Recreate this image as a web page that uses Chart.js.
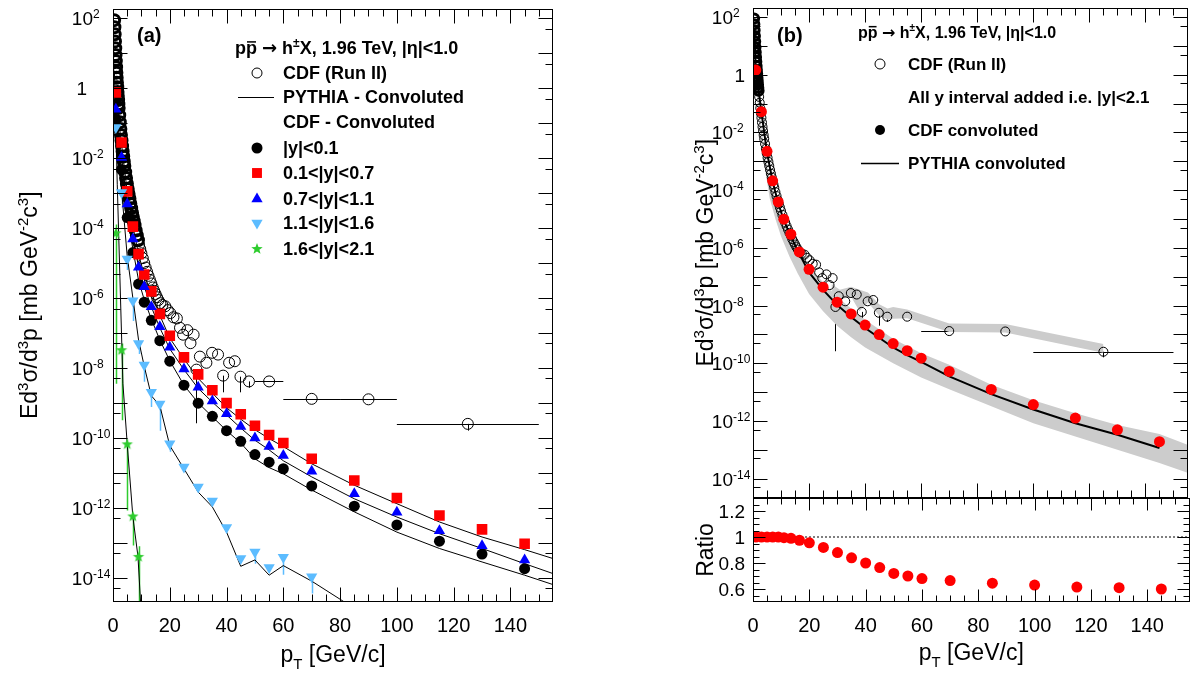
<!DOCTYPE html>
<html>
<head>
<meta charset="utf-8">
<script src="https://cdn.jsdelivr.net/npm/chart.js@4.4.1/dist/chart.umd.min.js"></script>
<style>
  html, body { margin: 0; padding: 0; background: #fff; }
  #wrap { position: relative; width: 1195px; height: 681px; overflow: hidden; }
  canvas { position: absolute; top: 0; }
</style>
</head>
<body>
<div id="wrap">
  <canvas id="cA" width="600" height="681" style="left:0"></canvas>
  <canvas id="cB" width="595" height="681" style="left:600px"></canvas>
  <canvas id="cR" width="595" height="681" style="left:600px"></canvas>
</div>
<script>
// === pp -> h X at 1.96 TeV, rapidity bins + convoluted spectrum ===

// --- CDF Run II data (open circles) ---
const cdfPt = [0.4, 0.5, 0.6, 0.7, 0.8, 0.9, 1.0, 1.1, 1.2, 1.3, 1.4, 1.5, 1.6, 1.7, 1.8, 1.9, 2.0,
  2.2, 2.4, 2.6, 2.8, 3.0, 3.2, 3.4, 3.6, 3.8, 4.0, 4.3, 4.6, 4.9, 5.2, 5.5, 5.8, 6.1, 6.4, 6.7, 7.0, 7.3, 7.6,
  8.0, 8.4, 8.8, 9.2, 9.6, 10.0, 10.5, 11.0, 11.5, 12.0, 12.5, 13.0, 13.5, 14.0, 14.5, 15.0, 15.5, 16.0,
  16.7, 17.4, 18.4, 19.3, 20.2, 21.3, 22.5, 23.6, 24.7, 26.2, 27.3, 28.4, 29.4, 30.6, 32.9, 34.9, 37.0,
  38.8, 40.9, 42.9, 44.9, 47.9, 55, 70, 90, 125];
const cdfVal = [89, 56, 35, 22, 14, 8.9, 6.0, 4.0, 2.8, 2.0, 1.45, 1.07, 0.79, 0.60, 0.46, 0.35, 0.275,
  0.17, 0.107, 0.069, 0.046, 0.032, 0.022, 0.0155, 0.0112, 0.0081, 0.0060, 0.0040, 0.0027, 0.00186, 0.00132,
  9.5e-4, 6.9e-4, 5.0e-4, 3.7e-4, 2.75e-4, 2.1e-4, 1.58e-4, 1.2e-4,
  8.5e-5, 6.2e-5, 4.5e-5, 3.3e-5, 2.5e-5, 1.9e-5, 1.38e-5, 1.0e-5, 7.4e-6, 5.6e-6, 4.3e-6, 3.3e-6, 2.6e-6,
  2.0e-6, 1.6e-6, 1.3e-6, 1.05e-6, 8.7e-7,
  7.1e-7, 6.3e-7, 5.8e-7, 4.5e-7, 3.7e-7, 2.8e-7, 2.6e-7, 1.4e-7, 8.9e-8, 1.2e-7, 5.1e-8, 8.9e-8, 8.9e-9,
  2.1e-8, 1.4e-8, 2.7e-8, 2.4e-8, 6.0e-9, 1.4e-8, 1.55e-8, 5.6e-9, 4.1e-9, 4.1e-9, 1.3e-9, 1.26e-9, 2.5e-10];
// error bars on a few CDF points
const cdfErrPt = [29.4, 38.8, 44.9, 47.9, 125];
const cdfErrLo = [2.6e-10, 2.0e-9, 2.0e-9, 2.7e-9, 1.6e-10];
const cdfErrHi = [8.9e-9, 6.0e-9, 5.6e-9, 4.1e-9, 2.5e-10];
const cdfBinPt = [55, 70, 90, 125];
const cdfBinVal = [4.1e-9, 1.3e-9, 1.26e-9, 2.5e-10];
const cdfBinLo = [50, 60, 80, 100];
const cdfBinHi = [60, 80, 100, 150];

// --- panel (a): rapidity bins (CDF convoluted) ---
const binPt = [1, 3, 5, 7, 9, 11, 13.5, 16.5, 20, 25, 30, 35, 40, 45, 50, 55, 60, 70, 85, 100, 115, 130, 145];
const y01 = [0.13, 4.7e-3, 2.0e-4, 2.0e-5, 2.5e-6, 7.6e-7, 2.3e-7, 6.0e-8, 1.55e-8, 3.2e-9, 9.8e-10, 4.1e-10,
  1.6e-10, 7.9e-11, 3.3e-11, 2.0e-11, 1.3e-11, 4.2e-12, 1.1e-12, 3.2e-13, 1.1e-13, 4.7e-14, 1.8e-14];
const y0107 = [0.76, 0.028, 1.12e-3, 1.1e-4, 1.8e-5, 4.7e-6, 1.55e-6, 3.5e-7, 8.3e-8, 2.0e-8, 6.5e-9, 2.3e-9,
  9.8e-10, 4.7e-10, 2.2e-10, 1.2e-10, 7.1e-11, 2.5e-11, 6.0e-12, 1.9e-12, 6.0e-13, 2.4e-13, 9.3e-14];
const y0711 = [0.25, 0.0105, 4.9e-4, 4.9e-5, 7.6e-6, 2.1e-6, 5.6e-7, 1.5e-7, 3.9e-8, 9.3e-9, 2.8e-9, 1.12e-9,
  4.9e-10, 2.1e-10, 9.8e-11, 5.6e-11, 3.1e-11, 1.1e-11, 2.5e-12, 7.4e-13, 2.2e-13, 8.1e-14, 3.2e-14];
const lbPt = [1, 3, 5, 7, 9, 11, 13.5, 16.5, 20, 25, 30, 35, 40, 45, 50, 55, 60, 70];
const y1116 = [0.076, 1.05e-3, 1.3e-5, 8.3e-7, 5.0e-8, 1.2e-8, 2.0e-9, 9.3e-10, 6.8e-11, 1.45e-11, 3.9e-12,
  1.55e-12, 2.7e-13, 3.5e-14, 5.4e-14, 1.95e-14, 3.8e-14, 1.05e-14];
const y1116ErrLo = [0.025, 5e-4, 6.3e-6, 2.2e-7, 2.5e-8, 4e-9, 7.6e-10, 1.6e-10, 4e-11, null, null, null, null,
  null, 2.5e-14, null, 1.2e-14, 3.5e-15];
const gPt = [1, 3, 5, 7, 9];
const y1621 = [7.1e-5, 3.2e-8, 6.5e-11, 5.6e-13, 3.9e-14];
const y1621ErrLo = [3.5e-9, 3.2e-10, 8.3e-13, 8.3e-14, 2e-15];
const y1621ErrHi = [1.26e-4, 5e-8, 7.2e-11, 6.3e-13, 7.9e-14];

// PYTHIA - convoluted, panel (a)
const pyPt = [1, 3, 5, 7, 9, 11, 13.5, 16.5, 20, 25, 30, 35, 40, 45, 50, 55, 60, 70, 85, 100, 115, 130, 145, 155];
const py01 = [0.16, 5.0e-3, 2.5e-4, 2.5e-5, 3.2e-6, 8.9e-7, 2.5e-7, 6.3e-8, 1.6e-8, 3.2e-9, 1.0e-9, 4.0e-10,
  1.6e-10, 7.1e-11, 2.5e-11, 1.4e-11, 9.3e-12, 3.2e-12, 7.6e-13, 2.0e-13, 6.8e-14, 2.8e-14, 1.17e-14, 6.3e-15];
const py0711 = [0.28, 0.011, 5.0e-4, 5.0e-5, 7.9e-6, 2.1e-6, 5.6e-7, 1.4e-7, 3.5e-8, 8.9e-9, 2.6e-9, 1.05e-9,
  4.5e-10, 1.9e-10, 8.5e-11, 4.5e-11, 2.2e-11, 7.6e-12, 1.8e-12, 5.4e-13, 1.8e-13, 6.8e-14, 2.5e-14, 1.3e-14];
const py0107 = [0.63, 0.025, 1.12e-3, 1.12e-4, 1.8e-5, 4.5e-6, 1.4e-6, 3.2e-7, 7.1e-8, 1.8e-8, 5.0e-9, 1.9e-9,
  7.2e-10, 3.4e-10, 1.7e-10, 9.5e-11, 5.6e-11, 1.8e-11, 4.4e-12, 1.3e-12, 3.9e-13, 1.45e-13, 6.3e-14, 3.5e-14];
const pyLbPt = [1, 3, 5, 7, 9, 11, 13.5, 16.5, 20, 25, 30, 35, 40, 45, 50, 55, 60, 70, 82.4];
const py1116 = [0.1, 1.26e-3, 1.6e-5, 1.0e-6, 6.3e-8, 1.12e-8, 1.6e-9, 8.3e-10, 6.0e-11, 1.3e-11, 2.8e-12,
  1.05e-12, 2.0e-13, 2.1e-14, 3.2e-14, 1.17e-14, 2.2e-14, 7.9e-15, 1.8e-15];
const pyGPt = [0.5, 1.5, 3.5, 5.0, 7.0, 8.8, 9.7];
const py1621 = [3.2, 1.8e-3, 3.5e-9, 6.8e-11, 5.5e-13, 4.0e-14, 2.0e-15];

// --- panel (b): all y intervals added, |y|<2.1 ---
const convVal = [1.45, 0.052, 2.2e-3, 2.1e-4, 3.9e-5, 9.8e-6, 2.95e-6, 7.2e-7, 1.8e-7, 4.3e-8, 1.3e-8, 5.1e-9,
  2.1e-9, 9.8e-10, 4.8e-10, 2.7e-10, 1.5e-10, 5.2e-11, 1.23e-11, 3.7e-12, 1.26e-12, 4.9e-13, 1.9e-13];
const pyConvPt = [0.5, 1, 3, 5, 7, 9, 11, 13.5, 16.5, 20, 25, 30, 35, 40, 45, 50, 55, 60, 70, 85, 100, 115, 130, 145];
const pyConv = [40, 1.6, 0.05, 2.0e-3, 2.0e-4, 3.5e-5, 8.9e-6, 2.5e-6, 6.3e-7, 1.4e-7, 3.5e-8, 1.05e-8, 4.0e-9,
  1.66e-9, 7.6e-10, 3.5e-10, 1.9e-10, 1.12e-10, 3.5e-11, 8.5e-12, 2.5e-12, 8.3e-13, 3.3e-13, 1.15e-13];
const bandPt = [0.5, 1, 2, 4, 6, 8, 10, 13, 16, 20, 25, 30, 35, 40, 50, 60, 70, 85, 100, 115, 130, 145, 155];
const bandUp = [100, 2.0, 0.1, 2.5e-3, 2.5e-4, 4.5e-5, 1.1e-5, 2.5e-6, 8.9e-7, 2.5e-7, 6.3e-8, 2.0e-8, 7.9e-9,
  3.2e-9, 7.1e-10, 2.2e-10, 8.9e-11, 1.8e-11, 5.2e-12, 1.86e-12, 7.2e-13, 3.5e-13, 1.5e-13];
const bandLo = [40, 0.79, 0.032, 7.9e-4, 5.0e-5, 1.0e-5, 2.5e-6, 5.0e-7, 1.26e-7, 2.5e-8, 6.3e-9, 2.0e-9, 7.9e-10,
  3.5e-10, 1.0e-10, 3.2e-11, 1.26e-11, 3.2e-12, 8.3e-13, 2.9e-13, 1.0e-13, 3.5e-14, 1.6e-14];
const cdfBandPt = [28, 31, 35, 38, 41, 45, 48, 50, 55, 70, 90, 125];
const cdfBandUp = [5.6e-8, 3.5e-8, 4.5e-8, 3.5e-8, 2.8e-8, 1.1e-8, 7.9e-9, 8.9e-9, 7.2e-9, 2.4e-9, 2.3e-9, 4.6e-10];
const cdfBandLo = [2.8e-8, 1.6e-8, 2.0e-8, 6.3e-9, 1.26e-8, 4.5e-9, 3.2e-9, 3.5e-9, 3.6e-9, 1.2e-9, 1.15e-9, 2.3e-10];

// --- ratio panel ---
const ratioVal = [1.0, 1.0, 1.0, 1.0, 1.0, 0.995, 0.99, 0.975, 0.955, 0.92, 0.88, 0.84, 0.80, 0.765, 0.72, 0.70,
  0.68, 0.665, 0.645, 0.63, 0.615, 0.61, 0.60];
const refPt = [0, 155];
const refVal = [1, 1];

// --- ticks ---
const xTickLabels = [0, 20, 40, 60, 80, 100, 120, 140];
const yDecades = [2, 1, 0, -1, -2, -3, -4, -5, -6, -7, -8, -9, -10, -11, -12, -13, -14];
const yLabelExp = [2, 0, -2, -4, -6, -8, -10, -12, -14];
const ratioTickLabels = [0.6, 0.8, 1, 1.2];

// --- style ---
const FONT = '"Liberation Sans", Arial, Helvetica, sans-serif';
const RED = '#ff0000', BLUE = '#0000ff', LBLUE = '#5cbcff', GREEN = '#2ecc2e', GREY = '#cccccc';

// --- helpers ---
const pts = (xs, ys) => xs.map((x, i) => ({ x, y: ys[i] }));

function markerSet(xs, ys, style, color, r, extra) {
  return Object.assign({
    data: pts(xs, ys), showLine: false, pointStyle: style, pointRadius: r,
    pointBackgroundColor: color, pointBorderColor: color, pointBorderWidth: 0,
    borderColor: color, backgroundColor: color
  }, extra || {});
}
function lineSet(xs, ys, color, w, extra) {
  return Object.assign({
    data: pts(xs, ys), borderColor: color, borderWidth: w, pointRadius: 0, fill: false, tension: 0
  }, extra || {});
}
// open circles; the crowded low-pT ones get a heavier ring so they merge like the original
function openCircles(r, densePt, order) {
  return markerSet(cdfPt, cdfVal, 'circle', '#000', r, {
    pointBackgroundColor: 'rgba(0,0,0,0)', order,
    pointBorderWidth: cdfPt.map(p => (p < densePt ? 3 : 1))
  });
}

function starCanvas(color, r) {
  const c = document.createElement('canvas');
  const s = Math.ceil(r * 2 + 2);
  c.width = c.height = s;
  const g = c.getContext('2d');
  g.beginPath();
  for (let i = 0; i < 10; i++) {
    const rr = i % 2 ? r * 0.42 : r;
    const ang = -Math.PI / 2 + i * Math.PI / 5;
    const px = s / 2 + rr * Math.cos(ang), py = s / 2 + rr * Math.sin(ang);
    if (i) g.lineTo(px, py); else g.moveTo(px, py);
  }
  g.closePath();
  g.fillStyle = color;
  g.fill();
  return c;
}
const STAR = starCanvas(GREEN, 6);

// rich text: parts = [{t, sup, sub, bar, f}]
function drawRich(ctx, parts, x, y, size, bold, align) {
  const w0 = bold ? 'bold ' : '';
  const fontOf = p => w0 + Math.round((p.sup || p.sub) ? size * 0.65 : size) + 'px ' + (p.f || FONT);
  let w = 0;
  const ws = parts.map(p => {
    ctx.font = fontOf(p);
    const m = ctx.measureText(p.t).width;
    w += m;
    return m;
  });
  let cx = align === 'center' ? x - w / 2 : align === 'right' ? x - w : x;
  ctx.textAlign = 'left';
  ctx.textBaseline = 'alphabetic';
  parts.forEach((p, i) => {
    ctx.font = fontOf(p);
    const dy = p.sup ? -size * 0.42 : p.sub ? size * 0.3 : 0;
    ctx.fillText(p.t, cx, y + dy);
    if (p.bar) ctx.fillRect(cx + 1, y - size * 0.74, ws[i] - 2, 1.5);
    cx += ws[i];
  });
  return w;
}

const Y_TITLE = [{ t: 'Ed' }, { t: '3', sup: 1 }, { t: 'σ/d' }, { t: '3', sup: 1 }, { t: 'p [mb GeV' },
  { t: '-2', sup: 1 }, { t: 'c' }, { t: '3', sup: 1 }, { t: ']' }];
const X_TITLE = [{ t: 'p' }, { t: 'T', sub: 1 }, { t: ' [GeV/c]' }];

function drawVertical(ctx, parts, cx, cy, size) {
  ctx.save();
  ctx.translate(cx, cy);
  ctx.rotate(-Math.PI / 2);
  drawRich(ctx, parts, 0, size * 0.36, size, false, 'center');
  ctx.restore();
}

// --- frame, inside ticks, labels ---
function axesPlugin(o) {
  return {
    id: 'axes',
    afterDatasetsDraw(chart) {
      const { ctx, chartArea: a, scales: { x, y } } = chart;
      const L = Math.round(a.left) + 0.5, R = Math.round(a.right) - 0.5;
      const T = Math.round(a.top) + 0.5, B = Math.round(a.bottom) - 0.5;
      ctx.save();
      ctx.strokeStyle = '#000';
      ctx.fillStyle = '#000';
      ctx.lineWidth = 1;
      ctx.beginPath();
      o.xTicks.forEach(([v, len]) => {
        const p = Math.round(x.getPixelForValue(v)) + 0.5;
        if (p <= L || p >= R) return;
        ctx.moveTo(p, B); ctx.lineTo(p, B - len);
        ctx.moveTo(p, T); ctx.lineTo(p, T + len);
      });
      o.yTicks.forEach(([v, len]) => {
        const p = Math.round(y.getPixelForValue(v)) + 0.5;
        if (p <= T || p >= B) return;
        ctx.moveTo(L, p); ctx.lineTo(L + len, p);
        ctx.moveTo(R, p); ctx.lineTo(R - len, p);
      });
      ctx.stroke();
      ctx.strokeRect(L, T, R - L, B - T);

      if (o.xLabels) {
        o.xLabels.forEach(v => drawRich(ctx, [{ t: String(v) }], x.getPixelForValue(v), o.xLabelY, 20, false, 'center'));
      }
      if (o.yLog) {
        yLabelExp.forEach(e => {
          const p = y.getPixelForValue(Math.pow(10, e)) + 7;
          if (e === 0) {
            drawRich(ctx, [{ t: '1' }], a.left - o.oneGap, p, 19, false, 'right');
          } else {
            drawRich(ctx, [{ t: '10' }], a.left - 20, p, 19, false, 'right');
            drawRich(ctx, [{ t: String(e), sup: 1 }], a.left - 20, p + 1, 19, false, 'left');
          }
        });
      }
      if (o.yLin) {
        o.yLin.forEach(v => drawRich(ctx, [{ t: String(v) }], a.left - 8, y.getPixelForValue(v) + 7, 19, false, 'right'));
      }
      if (o.yTitle) drawVertical(ctx, o.yTitle, o.yTitleX, (a.top + a.bottom) / 2, 23);
      if (o.xTitle) drawRich(ctx, o.xTitle, (a.left + a.right) / 2, o.xTitleY, 23, false, 'center');
      ctx.restore();
    }
  };
}

// --- error bars, drawn under the markers ---
function errorPlugin(list) {
  return {
    id: 'errors',
    beforeDatasetsDraw(chart) {
      const { ctx, chartArea: a, scales: { x, y } } = chart;
      ctx.save();
      ctx.beginPath();
      ctx.rect(a.left, a.top, a.right - a.left, a.bottom - a.top);
      ctx.clip();
      list.forEach(e => {
        ctx.strokeStyle = e.color;
        ctx.lineWidth = e.w || 1;
        ctx.beginPath();
        if (e.xlo !== undefined) {
          const py = Math.round(y.getPixelForValue(e.y)) + 0.5;
          ctx.moveTo(x.getPixelForValue(e.xlo), py);
          ctx.lineTo(x.getPixelForValue(e.xhi), py);
        } else {
          const px = Math.round(x.getPixelForValue(e.x)) + 0.5;
          ctx.moveTo(px, y.getPixelForValue(e.lo));
          ctx.lineTo(px, y.getPixelForValue(e.hi));
        }
        ctx.stroke();
      });
      ctx.restore();
    }
  };
}

// --- legend, drawn in canvas pixels ---
function legendPlugin(o) {
  return {
    id: 'legendText',
    afterDraw(chart) {
      const ctx = chart.ctx;
      ctx.save();
      ctx.fillStyle = '#000';
      drawRich(ctx, [{ t: o.label }], o.labelX, 42, 20, true, 'left');
      drawRich(ctx, [{ t: 'p' }, { t: 'p', bar: 1 }, { t: ' ' }, { t: '→', f: '"DejaVu Sans", sans-serif' },
        { t: ' h' }, { t: '±', sup: 1 }, { t: 'X, 1.96 TeV, |η|<1.0' }],
        o.titleX, o.titleY + o.titleSize * 0.36, o.titleSize, true, 'left');
      o.rows.forEach(r => {
        ctx.fillStyle = '#000';
        drawRich(ctx, [{ t: r.text }], o.textX, r.y + o.size * 0.36, o.size, true, 'left');
        if (!r.m) return;
        if (r.m === 'line') {
          ctx.strokeStyle = '#000';
          ctx.lineWidth = r.w || 1;
          ctx.beginPath();
          ctx.moveTo(r.x0, Math.round(r.y) + 0.5);
          ctx.lineTo(r.x1, Math.round(r.y) + 0.5);
          ctx.stroke();
          return;
        }
        ctx.fillStyle = r.fill;
        ctx.strokeStyle = r.stroke || r.fill;
        Chart.helpers.drawPoint(ctx, {
          pointStyle: r.m, rotation: r.rot || 0, radius: r.r, borderWidth: r.bw || 0
        }, o.markX, r.y);
      });
      ctx.restore();
    }
  };
}

const xTicks = [];
for (let v = 5; v < 155; v += 5) xTicks.push([v, v % 20 === 0 ? 14 : 7]);
const xTicksR = xTicks.map(([v, l]) => [v, l === 14 ? 12 : 6]);
const yLogTicks = [];
yDecades.forEach(e => { yLogTicks.push([Math.pow(10, e), 14]); yLogTicks.push([5 * Math.pow(10, e - 1), 7]); });
const yRatioTicks = [];
for (let v = 0.55; v < 1.3; v += 0.05) {
  const r = Math.round(v * 100) / 100;
  yRatioTicks.push([r, ratioTickLabels.includes(r) ? 12 : 6]);
}

function baseOptions(pad, yScale) {
  return {
    responsive: false,
    animation: false,
    events: [],
    layout: { padding: pad },
    plugins: { legend: { display: false }, tooltip: { enabled: false } },
    scales: {
      x: { type: 'linear', min: 0, max: 155, bounds: 'data', display: false },
      y: Object.assign({ bounds: 'data', display: false }, yScale)
    }
  };
}

// ================= panel (a) =================
new Chart(document.getElementById('cA'), {
  type: 'line',
  data: {
    datasets: [
      markerSet(gPt, y1621, STAR, GREEN, 6, { order: 0 }),
      markerSet(lbPt, y1116, 'triangle', LBLUE, 6.5, { pointRotation: 180, order: 1 }),
      markerSet(binPt, y0711, 'triangle', BLUE, 6.5, { order: 2 }),
      markerSet(binPt, y0107, 'rect', RED, 7.5, { order: 3 }),
      markerSet(binPt, y01, 'circle', '#000', 5.5, { order: 4 }),
      openCircles(5.5, 9, 5),
      lineSet(pyPt, py01, '#000', 1, { order: 6 }),
      lineSet(pyPt, py0711, '#000', 1, { order: 7 }),
      lineSet(pyPt, py0107, '#000', 1, { order: 8 }),
      lineSet(pyLbPt, py1116, '#000', 1, { order: 9 }),
      lineSet(pyGPt, py1621, '#000', 1, { order: 10 })
    ]
  },
  options: baseOptions({ left: 113, right: 47, top: 5, bottom: 79 }, { type: 'logarithmic', min: 2.0e-15, max: 192 }),
  plugins: [
    errorPlugin([].concat(
      lbPt.map((p, i) => y1116ErrLo[i] === null ? null : { x: p, lo: y1116ErrLo[i], hi: y1116[i], color: LBLUE, w: 1.5 }).filter(Boolean),
      gPt.map((p, i) => ({ x: p, lo: y1621ErrLo[i], hi: y1621ErrHi[i], color: GREEN, w: 1.5 })),
      cdfErrPt.map((p, i) => ({ x: p, lo: cdfErrLo[i], hi: cdfErrHi[i], color: '#000' })),
      cdfBinPt.map((p, i) => ({ y: cdfBinVal[i], xlo: cdfBinLo[i], xhi: cdfBinHi[i], color: '#000' }))
    )),
    axesPlugin({
      xTicks, yTicks: yLogTicks, xLabels: xTickLabels, xLabelY: 632, yLog: true, oneGap: 26,
      yTitle: Y_TITLE, yTitleX: 29, xTitle: X_TITLE, xTitleY: 662
    }),
    legendPlugin({
      label: '(a)', labelX: 137, titleX: 235, titleY: 48, titleSize: 18, size: 18, textX: 283, markX: 257,
      rows: [
        { y: 73, text: 'CDF (Run II)', m: 'circle', r: 5, fill: 'rgba(0,0,0,0)', stroke: '#000', bw: 1 },
        { y: 97, text: 'PYTHIA - Convoluted', m: 'line', x0: 238, x1: 274 },
        { y: 122, text: 'CDF - Convoluted' },
        { y: 148, text: '|y|<0.1', m: 'circle', r: 5.5, fill: '#000' },
        { y: 173, text: '0.1<|y|<0.7', m: 'rect', r: 7, fill: RED },
        { y: 199, text: '0.7<|y|<1.1', m: 'triangle', r: 6.5, fill: BLUE },
        { y: 223, text: '1.1<|y|<1.6', m: 'triangle', r: 6.5, rot: 180, fill: LBLUE },
        { y: 249, text: '1.6<|y|<2.1', m: STAR, r: 6, fill: GREEN }
      ]
    })
  ]
});

// ================= panel (b) =================
new Chart(document.getElementById('cB'), {
  type: 'line',
  data: {
    datasets: [
      markerSet(binPt, convVal, 'circle', RED, 5.5, { order: 0 }),
      openCircles(4.5, 2.1, 1),
      lineSet(pyConvPt, pyConv, '#000', 2, { order: 2 }),
      lineSet(bandPt, bandUp, 'rgba(0,0,0,0)', 0, { fill: '+1', backgroundColor: GREY, order: 10 }),
      lineSet(bandPt, bandLo, 'rgba(0,0,0,0)', 0, { order: 11 }),
      lineSet(cdfBandPt, cdfBandUp, 'rgba(0,0,0,0)', 0, { fill: '+1', backgroundColor: GREY, order: 12 }),
      lineSet(cdfBandPt, cdfBandLo, 'rgba(0,0,0,0)', 0, { order: 13 })
    ]
  },
  options: baseOptions({ left: 153, right: 5, top: 5, bottom: 183 }, { type: 'logarithmic', min: 2.13e-15, max: 213 }),
  plugins: [
    errorPlugin([].concat(
      cdfErrPt.map((p, i) => ({ x: p, lo: cdfErrLo[i], hi: cdfErrHi[i], color: '#000' })),
      cdfBinPt.map((p, i) => ({ y: cdfBinVal[i], xlo: cdfBinLo[i], xhi: cdfBinHi[i], color: '#000' }))
    )),
    axesPlugin({ xTicks, yTicks: yLogTicks, yLog: true, oneGap: 8, yTitle: Y_TITLE, yTitleX: 105 }),
    legendPlugin({
      label: '(b)', labelX: 177, titleX: 258, titleY: 32, titleSize: 16, size: 17, textX: 308, markX: 280,
      rows: [
        { y: 64, text: 'CDF (Run II)', m: 'circle', r: 5, fill: 'rgba(0,0,0,0)', stroke: '#000', bw: 1 },
        { y: 97, text: 'All y interval added i.e. |y|<2.1' },
        { y: 130, text: 'CDF convoluted', m: 'circle', r: 5, fill: '#000' },
        { y: 163, text: 'PYTHIA convoluted', m: 'line', x0: 261, x1: 299, w: 1.5 }
      ]
    })
  ]
});

// ================= ratio panel =================
new Chart(document.getElementById('cR'), {
  type: 'line',
  data: {
    datasets: [
      markerSet(binPt, ratioVal, 'circle', RED, 5.5, { order: 0 }),
      lineSet(refPt, refVal, '#000', 1, { borderDash: [2, 2], order: 1 })
    ]
  },
  options: baseOptions({ left: 153, right: 5, top: 498, bottom: 79 }, { type: 'linear', min: 0.5, max: 1.3 }),
  plugins: [
    axesPlugin({
      xTicks: xTicksR, yTicks: yRatioTicks, xLabels: xTickLabels, xLabelY: 632, yLin: ratioTickLabels,
      yTitle: [{ t: 'Ratio' }], yTitleX: 105, xTitle: X_TITLE, xTitleY: 660
    })
  ]
});
</script>
</body>
</html>
